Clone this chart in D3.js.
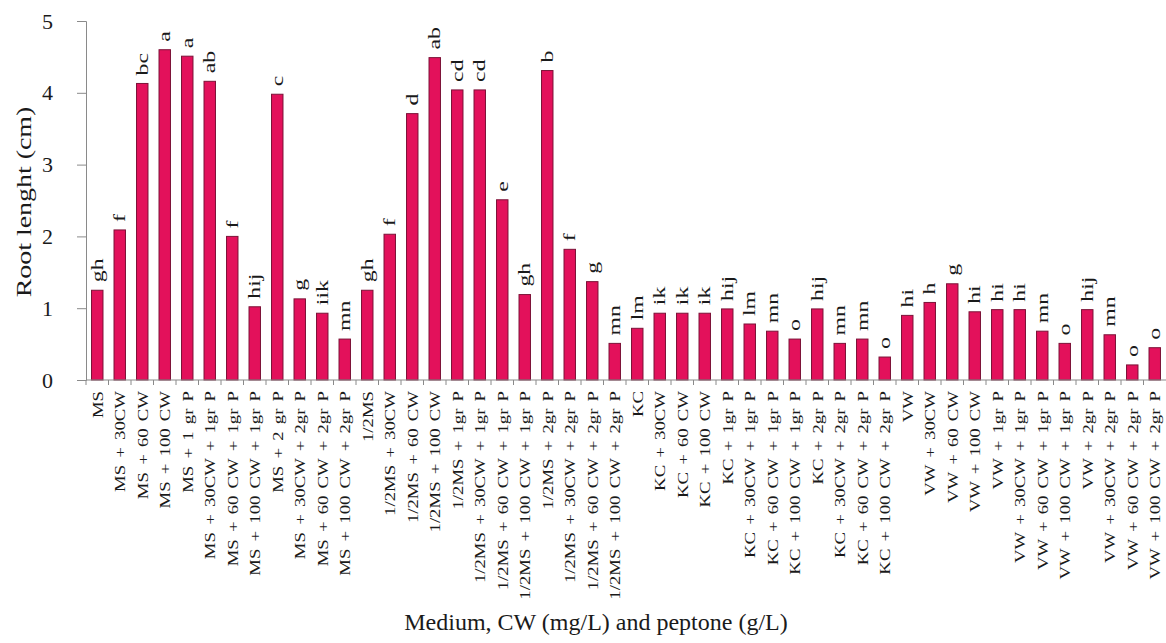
<!DOCTYPE html>
<html>
<head>
<meta charset="utf-8">
<script src="https://cdn.jsdelivr.net/npm/d3@7"></script>
<style>
  body { margin: 0; background: #fff; }
  text { font-family: "Liberation Serif", "Times New Roman", serif; fill: #1a1a1a; }
</style>
</head>
<body>
<div id="chart"></div>
<script>
/* global d3*/

// categories along the x axis
let categories = [
  'MS', 'MS + 30CW', 'MS + 60 CW', 'MS + 100 CW', 'MS + 1 gr P', 'MS + 30CW + 1gr P',
  'MS + 60 CW + 1gr P', 'MS + 100 CW + 1gr P', 'MS + 2 gr P', 'MS + 30CW + 2gr P',
  'MS + 60 CW + 2gr P', 'MS + 100 CW + 2gr P',
  '1/2MS', '1/2MS + 30CW', '1/2MS + 60 CW', '1/2MS + 100 CW', '1/2MS + 1gr P',
  '1/2MS + 30CW + 1gr P', '1/2MS + 60 CW + 1gr P', '1/2MS + 100 CW + 1gr P', '1/2MS + 2gr P',
  '1/2MS + 30CW + 2gr P', '1/2MS + 60 CW + 2gr P', '1/2MS + 100 CW + 2gr P',
  'KC', 'KC + 30CW', 'KC + 60 CW', 'KC + 100 CW', 'KC + 1gr P', 'KC + 30CW + 1gr P',
  'KC + 60 CW + 1gr P', 'KC + 100 CW + 1gr P', 'KC + 2gr P', 'KC + 30CW + 2gr P',
  'KC + 60 CW + 2gr P', 'KC + 100 CW + 2gr P',
  'VW', 'VW + 30CW', 'VW + 60 CW', 'VW + 100 CW', 'VW + 1gr P', 'VW + 30CW + 1gr P',
  'VW + 60 CW + 1gr P', 'VW + 100 CW + 1gr P', 'VW + 2gr P', 'VW + 30CW + 2gr P',
  'VW + 60 CW + 2gr P', 'VW + 100 CW + 2gr P'
];

// root length (cm)
let values = [
  1.25, 2.09, 4.13, 4.60, 4.51, 4.16, 2.00, 1.02, 3.98, 1.13, 0.93, 0.57,
  1.25, 2.03, 3.71, 4.49, 4.04, 4.04, 2.51, 1.19, 4.31, 1.82, 1.37, 0.51,
  0.72, 0.93, 0.93, 0.93, 0.99, 0.78, 0.68, 0.57, 0.99, 0.51, 0.57, 0.32,
  0.90, 1.08, 1.34, 0.95, 0.98, 0.98, 0.68, 0.51, 0.98, 0.63, 0.21, 0.45
];

// significance letters above bars
let letters = [
  'gh', 'f', 'bc', 'a', 'a', 'ab', 'f', 'hij', 'c', 'g', 'iik', 'mn',
  'gh', 'f', 'd', 'ab', 'cd', 'cd', 'e', 'gh', 'b', 'f', 'g', 'mn',
  'lm', 'ik', 'ik', 'ik', 'hij', 'lm', 'mn', 'o', 'hij', 'mn', 'mn', 'o',
  'hi', 'h', 'g', 'hi', 'hi', 'hi', 'mn', 'o', 'hij', 'mn', 'o', 'o'
];

let yTicks = [0, 1, 2, 3, 4, 5];

let width = 1166, height = 643;
let margin = { top: 21, right: 0, bottom: 263, left: 86 };
let h = height - margin.top - margin.bottom;

let data = categories.map((c, i) => ({ cat: c, value: values[i], letter: letters[i] }));

let xScale = d3.scaleBand()
  .domain(categories)
  .range([margin.left, width])
  .paddingInner(0.49)
  .paddingOuter(0.245);

let yScale = d3.scaleLinear()
  .domain([0, 5])
  .range([margin.top + h, margin.top]);

let svg = d3.select('#chart')
  .append('svg')
  .attr('width', width)
  .attr('height', height);

// y axis
let yAxis = svg.append('g')
  .attr('transform', 'translate(' + margin.left + ',0)')
  .call(d3.axisLeft(yScale).tickValues(yTicks).tickSize(9).tickPadding(24).tickFormat(d3.format('d')));
yAxis.select('.domain').attr('stroke', '#8a8a8a');
yAxis.selectAll('.tick line').attr('stroke', '#8a8a8a');
yAxis.selectAll('.tick text')
  .style('font-size', '22px')
  .attr('fill', '#1a1a1a');

// bars
svg.selectAll('rect.bar')
  .data(data)
  .enter()
  .append('rect')
  .attr('class', 'bar')
  .attr('x', d => xScale(d.cat))
  .attr('y', d => yScale(d.value))
  .attr('width', xScale.bandwidth())
  .attr('height', d => yScale(0) - yScale(d.value))
  .attr('fill', '#e3115b')
  .attr('stroke', '#7c1338')
  .attr('stroke-width', 1);

// x axis line and ticks between bars
let x0 = yScale(0);
svg.append('line')
  .attr('x1', margin.left).attr('x2', width)
  .attr('y1', x0).attr('y2', x0)
  .attr('stroke', '#8a8a8a');
let step = xScale.step();
svg.selectAll('line.xtick')
  .data(categories)
  .enter()
  .append('line')
  .attr('class', 'xtick')
  .attr('x1', d => xScale(d) - (step - xScale.bandwidth()) / 2)
  .attr('x2', d => xScale(d) - (step - xScale.bandwidth()) / 2)
  .attr('y1', x0).attr('y2', x0 + 5)
  .attr('stroke', '#8a8a8a');

// category labels, rotated
svg.selectAll('text.cat')
  .data(data)
  .enter()
  .append('text')
  .attr('class', 'cat')
  .attr('transform', d => 'translate(' + (xScale(d.cat) + xScale.bandwidth() / 2) + ',' + (x0 + 11) + ') rotate(-90) scale(1.25,1)')
  .attr('dy', '0.35em')
  .style('text-anchor', 'end')
  .style('font-size', '15px')
  .style('word-spacing', '2px')
  .text(d => d.cat);

// letters over bars
svg.selectAll('text.letter')
  .data(data)
  .enter()
  .append('text')
  .attr('class', 'letter')
  .attr('transform', d => 'translate(' + (xScale(d.cat) + xScale.bandwidth() / 2) + ',' + (yScale(d.value) - 8) + ') rotate(-90) scale(1.4,1)')
  .attr('dy', '0.33em')
  .style('text-anchor', 'start')
  .style('font-size', '17px')
  .text(d => d.letter);

// axis titles
svg.append('text')
  .attr('transform', 'translate(23,202) rotate(-90) scale(1.27,1)')
  .attr('dy', '0.35em')
  .style('text-anchor', 'middle')
  .style('font-size', '22px')
  .text('Root lenght (cm)');

svg.append('text')
  .attr('x', 596)
  .attr('y', 630)
  .style('text-anchor', 'middle')
  .style('font-size', '24px')
  .text('Medium, CW (mg/L)  and peptone (g/L)');
</script>
</body>
</html>
